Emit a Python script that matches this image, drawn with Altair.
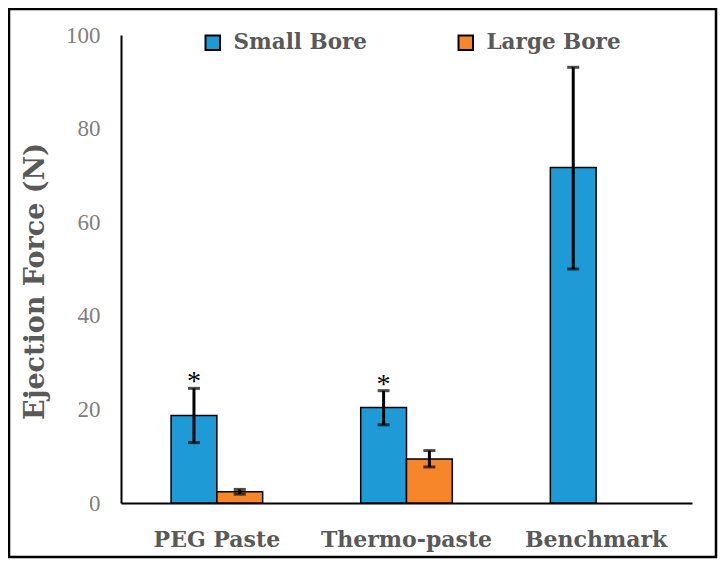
import altair as alt
import pandas as pd

categories = ["PEG Paste", "Thermo-paste", "Benchmark"]
series = ["Small Bore", "Large Bore"]
small_vals = [18.7, 20.4, 71.7]
small_lo = [12.9, 16.7, 50.0]
small_hi = [24.5, 24.0, 93.1]
large_vals = [2.4, 9.4, None]
large_lo = [1.9, 7.7, None]
large_hi = [2.9, 11.2, None]
stars = ["*", "*", ""]

rows = []
for i, c in enumerate(categories):
    rows.append(dict(cat=c, ser="Small Bore", v=small_vals[i], lo=small_lo[i], hi=small_hi[i], star=stars[i]))
    if large_vals[i] is not None:
        rows.append(dict(cat=c, ser="Large Bore", v=large_vals[i], lo=large_lo[i], hi=large_hi[i], star=""))
df = pd.DataFrame(rows)

W, H = 571, 468
BFONT = "DejaVu Serif"
TFONT = "Liberation Serif"
GREY = "#595959"

xenc = alt.X("cat:N", sort=categories,
             scale=alt.Scale(paddingInner=0.517, paddingOuter=0.264),
             axis=alt.Axis(title=None, labelAngle=0, labelFont=BFONT, labelFontSize=22,
                           labelFontWeight="bold", labelColor=GREY, labelPadding=26,
                           ticks=False, domainColor="black", domainWidth=2))
xoff = alt.XOffset("ser:N", sort=series, scale=alt.Scale(domain=series, paddingInner=0, paddingOuter=0))
yscale = alt.Scale(domain=[0, 100])

base = alt.Chart(df)

bars = base.mark_bar(stroke="black", strokeWidth=1.5).encode(
    x=xenc,
    xOffset=xoff,
    y=alt.Y("v:Q", scale=yscale,
            axis=alt.Axis(title="Ejection Force (N)", values=[0, 20, 40, 60, 80, 100],
                          grid=False, ticks=False, labelFont=TFONT, labelFontSize=23,
                          labelColor="#808080", labelPadding=21, domainColor="black", domainWidth=2,
                          titleFont=BFONT, titleFontSize=27, titleFontWeight="bold",
                          titleColor=GREY, titlePadding=16, titleY=246)),
    color=alt.Color("ser:N", sort=series,
                    scale=alt.Scale(domain=series, range=["#1e9bd7", "#f7862b"]),
                    legend=alt.Legend(title=None, orient="none", direction="horizontal",
                                      legendX=81, legendY=-3, symbolType="square", symbolSize=210,
                                      symbolStrokeColor="black", symbolStrokeWidth=2,
                                      labelFont=BFONT, labelFontSize=21.5, labelFontWeight="bold",
                                      labelColor=GREY, columnPadding=86, labelLimit=300,
                                      labelOffset=10, symbolOpacity=1)),
)

rules = base.mark_rule(color="black", strokeWidth=3).encode(
    x=alt.X("cat:N", sort=categories), xOffset=xoff,
    y=alt.Y("lo:Q", scale=yscale), y2="hi:Q")
caps_hi = base.mark_tick(color="black", thickness=3, size=12).encode(
    x=alt.X("cat:N", sort=categories), xOffset=xoff, y=alt.Y("hi:Q", scale=yscale))
caps_lo = base.mark_tick(color="black", thickness=3, size=12).encode(
    x=alt.X("cat:N", sort=categories), xOffset=xoff, y=alt.Y("lo:Q", scale=yscale))
star_txt = base.mark_text(font=TFONT, fontSize=28, color="black", baseline="bottom", dy=8).encode(
    x=alt.X("cat:N", sort=categories), xOffset=xoff, y=alt.Y("hi:Q", scale=yscale), text="star:N")

frame = alt.Chart(pd.DataFrame({"a": [0]})).mark_rect(
    fill=None, stroke="black", strokeWidth=2.5, clip=False).encode(
    x=alt.value(-112), x2=alt.value(595), y=alt.value(-26), y2=alt.value(522))

chart = alt.layer(bars, rules, caps_hi, caps_lo, star_txt, frame).properties(
    width=W, height=H,
    background="white",
    autosize=alt.AutoSizeParams(type="none"),
    padding={"left": 113, "top": 27, "right": 27, "bottom": 56},
).configure_view(stroke=None)

chart.save("out.html", embed_options={"renderer": "svg", "actions": False})
